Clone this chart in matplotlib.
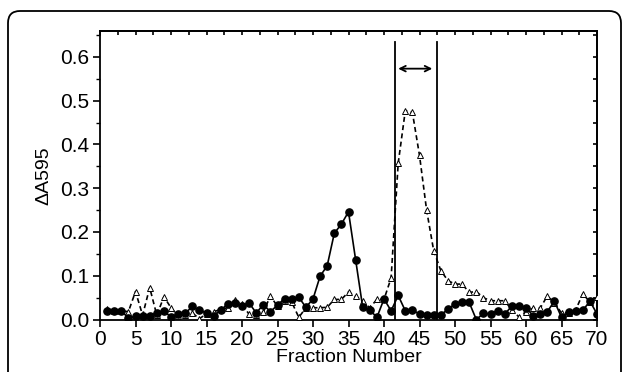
import matplotlib
matplotlib.use("Agg")
import matplotlib.pyplot as plt
from matplotlib.patches import FancyBboxPatch
from matplotlib.transforms import IdentityTransform
from matplotlib.ticker import MultipleLocator

plt.rcParams['font.family'] = ['Liberation Sans', 'DejaVu Sans']

fractions = list(range(1, 71))

# filled circles, solid line
solid_vals = [0.019, 0.019, 0.019, 0.004, 0.007, 0.008, 0.008, 0.016, 0.019, 0.006,
              0.012, 0.014, 0.030, 0.021, 0.015, 0.009, 0.021, 0.036, 0.038, 0.032,
              0.038, 0.015, 0.034, 0.018, 0.033, 0.048, 0.047, 0.051, 0.028, 0.047,
              0.099, 0.123, 0.197, 0.218, 0.246, 0.137, 0.028, 0.022, 0.005, 0.047,
              0.020, 0.055, 0.020, 0.021, 0.013, 0.011, 0.011, 0.011, 0.023, 0.036,
              0.039, 0.039, 0.000, 0.014, 0.013, 0.020, 0.013, 0.030, 0.030, 0.027,
              0.009, 0.013, 0.018, 0.042, 0.005, 0.017, 0.020, 0.021, 0.042, 0.013]

# open triangles, dashed line
dashed_vals = [0.025, 0.020, 0.020, 0.018, 0.064, 0.010, 0.073, 0.010, 0.052, 0.027,
               0.008, 0.011, 0.015, 0.002, 0.013, 0.018, 0.023, 0.027, 0.044, 0.035,
               0.012, 0.011, 0.017, 0.054, 0.030, 0.042, 0.040, 0.005, 0.027, 0.027,
               0.027, 0.028, 0.046, 0.046, 0.063, 0.053, 0.042, 0.027, 0.046, 0.046,
               0.095, 0.357, 0.477, 0.473, 0.375, 0.250, 0.157, 0.112, 0.089, 0.081,
               0.081, 0.062, 0.064, 0.050, 0.043, 0.043, 0.043, 0.022, 0.006, 0.018,
               0.026, 0.026, 0.054, 0.038, 0.015, 0.016, 0.022, 0.059, 0.040, 0.052]

pool_lines = [41.5, 47.5]
pool_arrow = (42.0, 46.8, 0.573)

fig = plt.figure(figsize=(6.27, 3.72), dpi=100)
ax = fig.add_axes([100 / 627, 1 - 320 / 372, 497 / 627, 289 / 372])

ax.plot(fractions, dashed_vals, color='black', lw=1.2, ls=(0, (3, 2)),
        marker='^', ms=5, mfc='white', mec='black', mew=0.7, zorder=3)
ax.plot(fractions, solid_vals, color='black', lw=1.2,
        marker='o', ms=5.2, mfc='black', mec='black', zorder=4)

for xl in pool_lines:
    ax.plot([xl, xl], [0, 0.633], color='black', lw=1.3, zorder=2)
ax.annotate('', xy=(pool_arrow[1], pool_arrow[2]), xytext=(pool_arrow[0], pool_arrow[2]),
            arrowprops=dict(arrowstyle='<->', color='black', lw=1.3,
                            shrinkA=0, shrinkB=0, mutation_scale=10))

ax.set_xlim(0, 70)
ax.set_ylim(-0.001, 0.659)

ax.xaxis.set_major_locator(MultipleLocator(5))
ax.yaxis.set_major_locator(MultipleLocator(0.1))
ax.yaxis.set_minor_locator(MultipleLocator(0.05))
ax.yaxis.set_major_formatter(matplotlib.ticker.FormatStrFormatter('%.1f'))
ax.tick_params(axis='x', which='major', direction='out', length=5, width=1.2,
               labelsize=15, pad=2)
ax.tick_params(axis='y', which='major', direction='out', length=5, width=1.2,
               labelsize=15, pad=3)
ax.tick_params(axis='y', which='minor', direction='out', length=3, width=1.0)

top = ax.secondary_xaxis('top')
top.xaxis.set_major_locator(MultipleLocator(2.5))
top.tick_params(direction='in', length=3, width=1.2, labeltop=False)
top.spines['top'].set_linewidth(1.3)
right = ax.secondary_yaxis('right')
right.yaxis.set_major_locator(MultipleLocator(0.05))
right.tick_params(direction='in', length=3, width=1.2, labelright=False)
right.spines['right'].set_linewidth(1.3)

for s in ax.spines.values():
    s.set_linewidth(1.3)

ax.set_xlabel('Fraction Number', fontsize=14, labelpad=0)
ax.set_ylabel('ΔA595', fontsize=14, labelpad=5)

frame = FancyBboxPatch((8, -30), 613, 391, boxstyle="round,pad=0,rounding_size=12",
                       transform=IdentityTransform(), fill=False, ec='black', lw=1.3)
fig.add_artist(frame)

fig.savefig('out.png', dpi=100)
